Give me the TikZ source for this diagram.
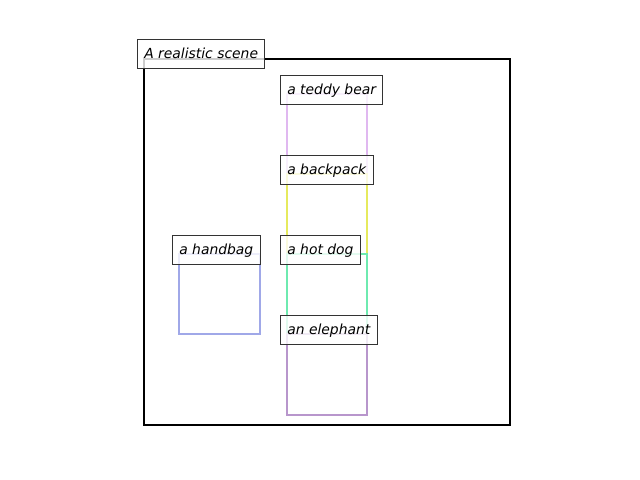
\documentclass[tikz,border=0pt]{standalone}
\usepackage{fontspec}
\setmainfont{DejaVu Sans}
\usepackage{xcolor}
\usetikzlibrary{positioning}
\definecolor{teddypurple}{HTML}{E0B8F0}
\definecolor{backpackyellow}{HTML}{E6EA5E}
\definecolor{hotdoggreen}{HTML}{6EEAB0}
\definecolor{elephantpurple}{HTML}{B896CC}
\definecolor{handbagblue}{HTML}{A0A8E8}
\definecolor{labeledge}{HTML}{333333}

\tikzset{
  scenelabel/.style={fill=white, fill opacity=0.8, text opacity=1, draw=labeledge,
    line width=0.7pt, anchor=west, inner xsep=4.9pt, inner ysep=0pt,
    text height=8pt, text depth=2.24pt,
    minimum height=20.2pt, font=\itshape\fontsize{10pt}{12pt}\selectfont},
  objbox/.style={line width=1.6pt}
}

\begin{document}
\begin{tikzpicture}[x=0.72pt, y=-0.72pt]
    \useasboundingbox (0,0) rectangle (640,480);
    % scene frame
    \draw[line width=1.6pt, black] (144,59) rectangle (510,425);
    % object boxes
    \draw[objbox, teddypurple] (287,94) rectangle (367,174);
    \draw[objbox, backpackyellow] (287,174) rectangle (367,254);
    \draw[objbox, handbagblue] (179,254) rectangle (260,334);
    \draw[objbox, hotdoggreen] (287,254) rectangle (367,334);
    \draw[objbox, elephantpurple] (287,334) rectangle (367,415);
    % labels
    \node[scenelabel] (scene) at (137,54) {A realistic scene};
    \node[scenelabel] (teddy) at (280,90) {a teddy bear};
    \node[scenelabel] (backpack) at (280,170) {a backpack};
    \node[scenelabel] (handbag) at (172,250) {a handbag};
    \node[scenelabel] (hotdog) at (280,250) {a hot dog};
    \node[scenelabel] (elephant) at (280,330) {an elephant};
\end{tikzpicture}
\end{document}
